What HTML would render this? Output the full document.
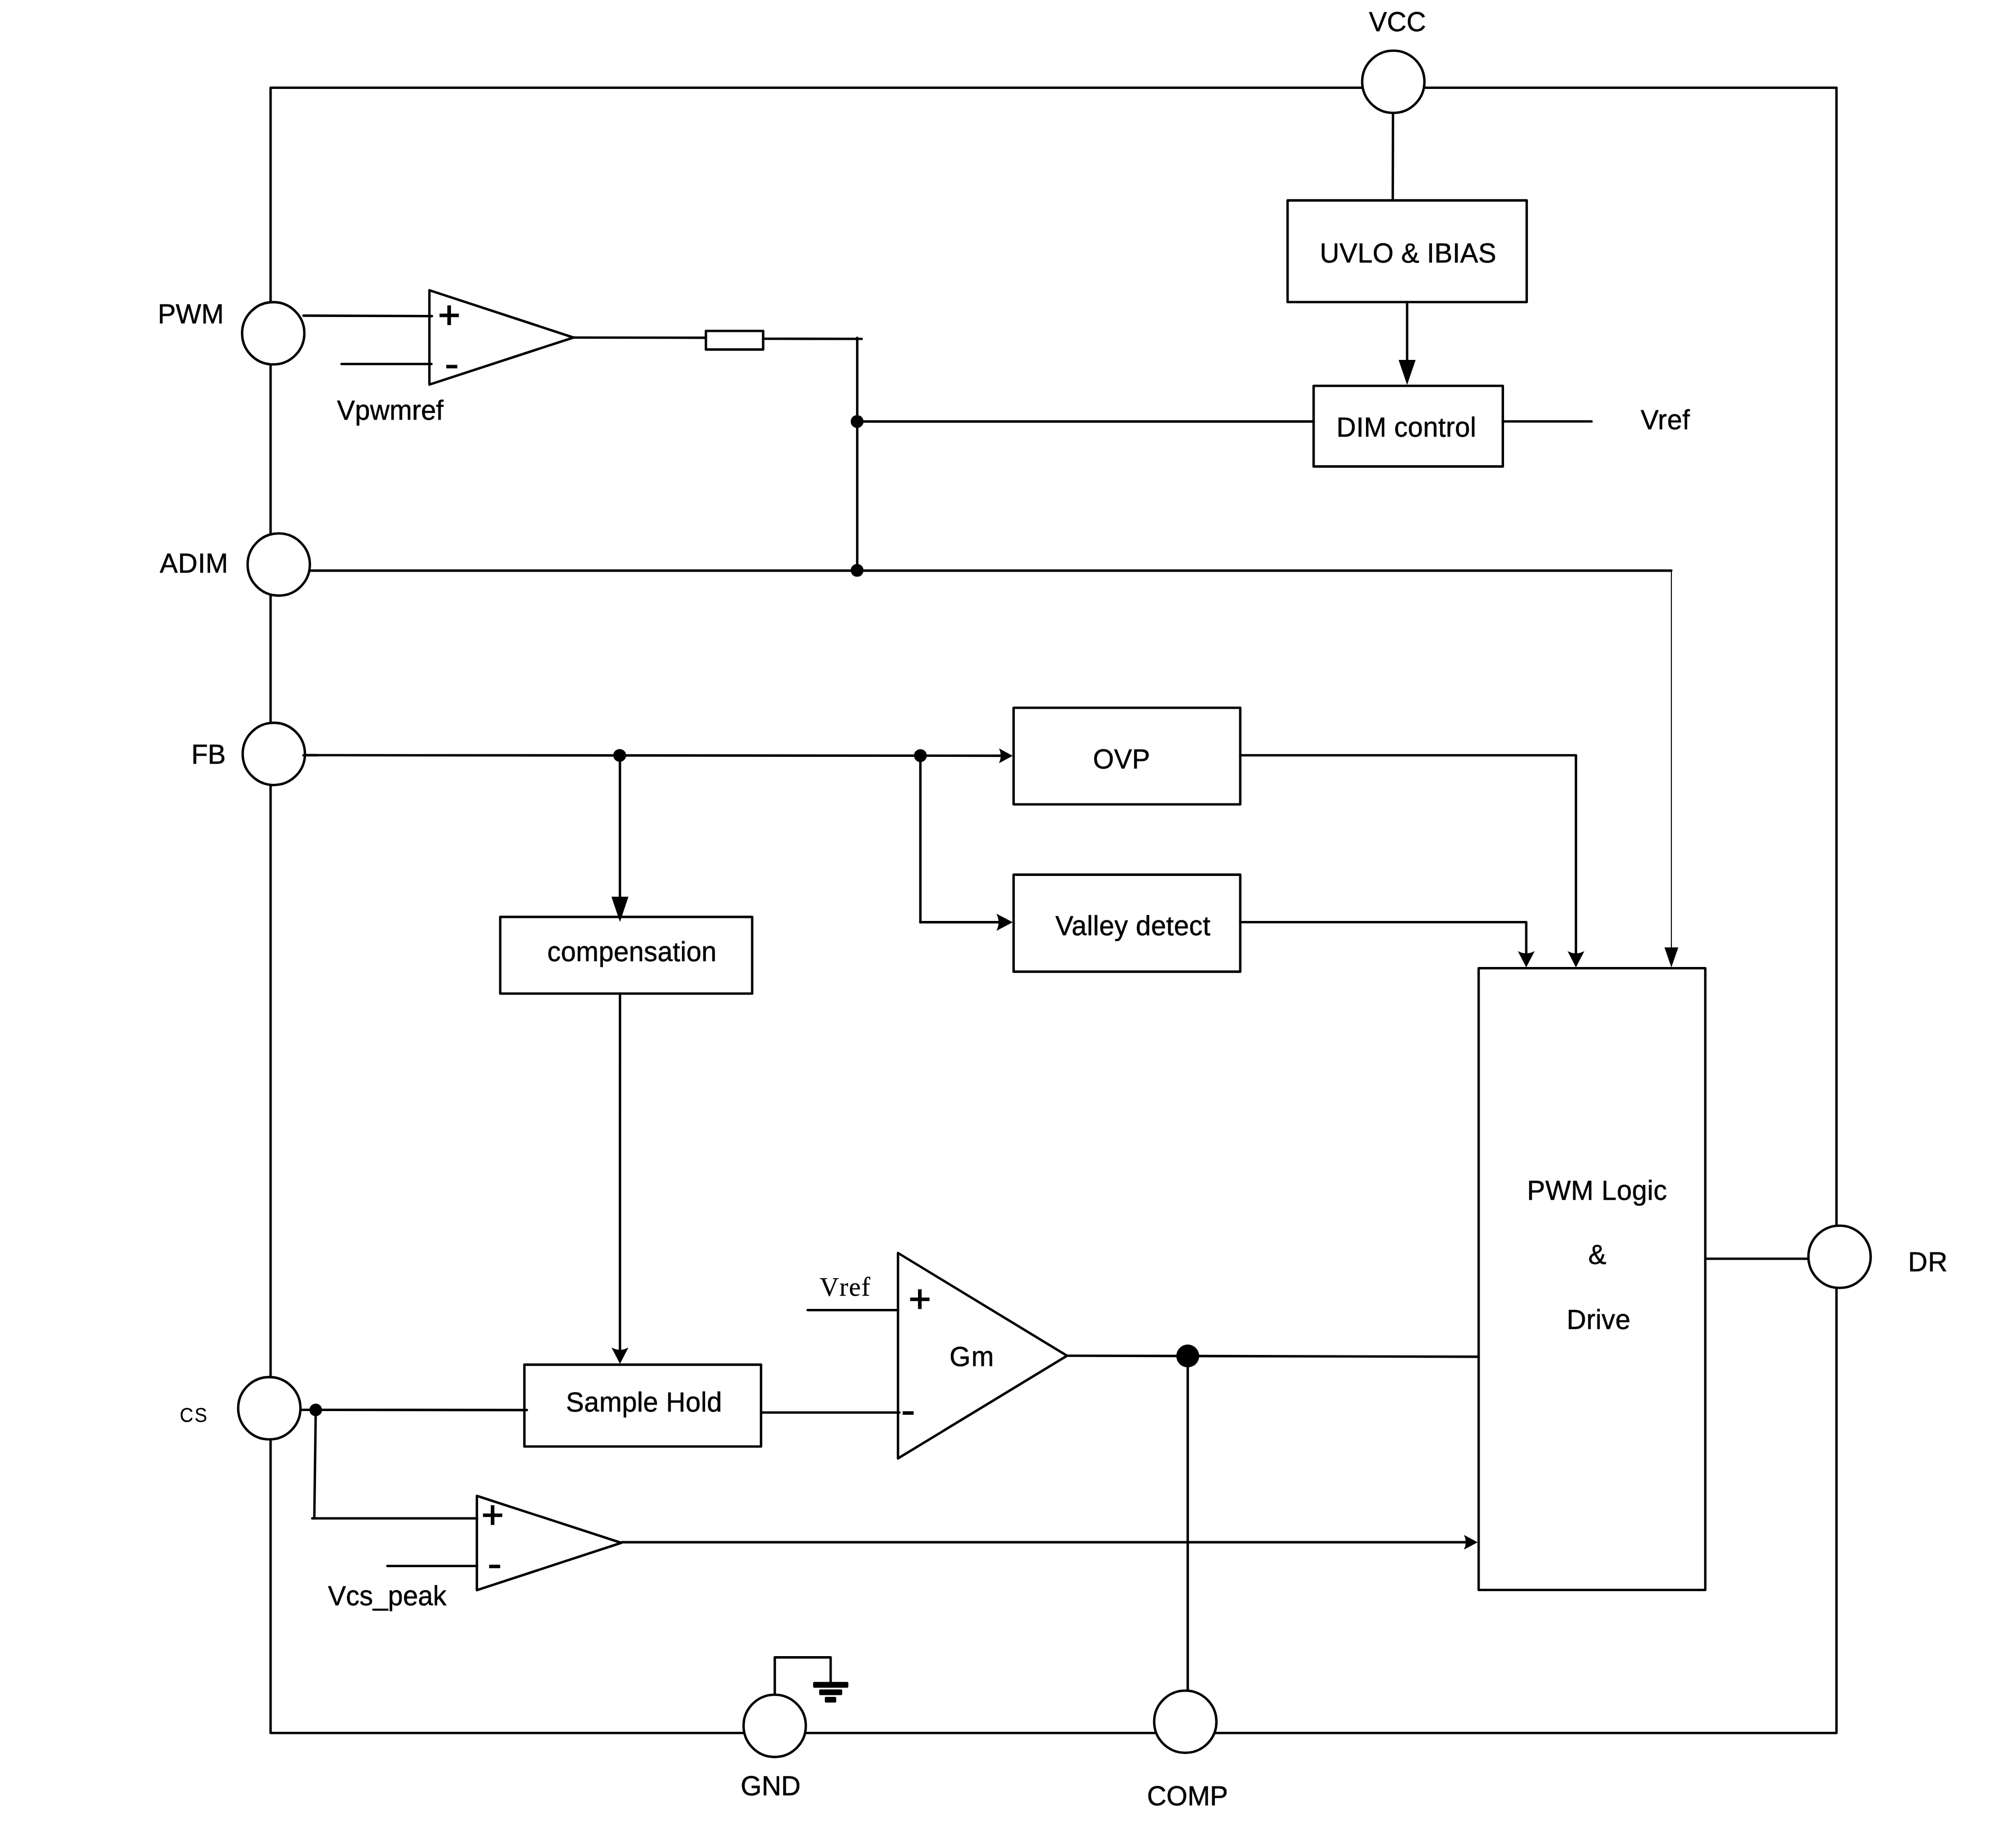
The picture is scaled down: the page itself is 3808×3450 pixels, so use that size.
<!DOCTYPE html>
<html><head><meta charset="utf-8"><title>Block diagram</title>
<style>
html,body{margin:0;padding:0;background:#fff;}
svg{display:block;will-change:transform;}
</style></head>
<body>
<svg width="3808" height="3450" viewBox="0 0 3808 3450" stroke="#000" fill="none">
<rect x="0" y="0" width="3808" height="3450" fill="#fff" stroke="none"/>
<rect x="511.1" y="165.8" width="2957.8" height="3108.5" stroke-width="4.6" fill="none" stroke-linejoin="round"/>
<line x1="2631.2" y1="212" x2="2630.8" y2="378" stroke-width="4.6" stroke-linecap="round"/>
<rect x="2432.1" y="378.6" width="451.7" height="192.2" stroke-width="4.6" fill="#fff" stroke-linejoin="round"/>
<line x1="2657.9" y1="570.8" x2="2657.9" y2="690" stroke-width="4.6" stroke-linecap="round"/>
<rect x="2481.3" y="729.0" width="357.4" height="152.4" stroke-width="4.6" fill="#fff" stroke-linejoin="round"/>
<polygon points="2641.8,680.0999999999999 2674.0,680.0999999999999 2657.9,727.3" fill="#000" stroke="none"/>
<line x1="2838.7" y1="796.3" x2="3006.3" y2="796.3" stroke-width="4.6" stroke-linecap="round"/>
<line x1="1619" y1="796.4" x2="2481.3" y2="796.4" stroke-width="4.6" stroke-linecap="round"/>
<line x1="573.2" y1="596.4" x2="815.9" y2="597.2" stroke-width="4.6" stroke-linecap="round"/>
<line x1="645.2" y1="687.7" x2="815" y2="687.7" stroke-width="4.6" stroke-linecap="round"/>
<polygon points="811.1,548.4 1083.3,637.7 811.1,726.6" stroke-width="4.6" fill="none" stroke-linejoin="round" stroke-linecap="round"/>
<line x1="1083.3" y1="637.8" x2="1333.3" y2="638.1" stroke-width="4.6" stroke-linecap="round"/>
<rect x="1333.4" y="625.2" width="108.1" height="35.2" stroke-width="4.6" fill="#fff" stroke-linejoin="round"/>
<line x1="1441.5" y1="640.0" x2="1627.6" y2="640.3" stroke-width="4.6" stroke-linecap="round"/>
<line x1="1619.2" y1="638.2" x2="1619.2" y2="1077" stroke-width="4.6" stroke-linecap="round"/>
<line x1="585" y1="1078.1" x2="3156.9" y2="1078.1" stroke-width="4.6" stroke-linecap="round"/>
<line x1="3157.1" y1="1078.2" x2="3157.1" y2="1795" stroke-width="1.9" stroke-linecap="butt"/>
<polygon points="3143.9500000000003,1790.1000000000001 3170.15,1790.1000000000001 3157.05,1827.7" fill="#000" stroke="none"/>
<circle cx="1619" cy="796.4" r="12.1" fill="#000" stroke="none"/>
<circle cx="1619" cy="1077.6" r="12.1" fill="#000" stroke="none"/>
<line x1="572" y1="1426.8" x2="1895" y2="1427.9" stroke-width="4.6" stroke-linecap="round"/>
<rect x="1914.6" y="1337.2" width="428.1" height="182.6" stroke-width="4.6" fill="#fff" stroke-linejoin="round"/>
<rect x="1914.6" y="1652.6" width="428.1" height="183.3" stroke-width="4.6" fill="#fff" stroke-linejoin="round"/>
<path d="M1913,1428 L1887,1414.1 Q1893.6,1428 1887,1441.9 Z" fill="#000" stroke="none"/>
<line x1="1171.0" y1="1427.5" x2="1171.0" y2="1700" stroke-width="4.6" stroke-linecap="round"/>
<line x1="1738.5" y1="1427.5" x2="1738.5" y2="1742.4" stroke-width="4.6" stroke-linecap="round"/>
<line x1="1738.5" y1="1742.4" x2="1895" y2="1742.4" stroke-width="4.6" stroke-linecap="round"/>
<path d="M1913,1742.5 L1882,1726.3 Q1890.4,1742.5 1882,1758.7 Z" fill="#000" stroke="none"/>
<circle cx="1170.5" cy="1427.3" r="12.1" fill="#000" stroke="none"/>
<circle cx="1738.5" cy="1427.6" r="12.1" fill="#000" stroke="none"/>
<polyline points="2342.7,1427 2976.8,1427 2976.8,1808" stroke-width="4.6" fill="none" stroke-linejoin="round" stroke-linecap="round"/>
<path d="M2976.8,1827.8 L2960.9,1797.1 Q2976.8,1805.5 2992.7000000000003,1797.1 Z" fill="#000" stroke="none"/>
<polyline points="2342.7,1742.3 2882.9,1742.3 2882.9,1808" stroke-width="4.6" fill="none" stroke-linejoin="round" stroke-linecap="round"/>
<path d="M2882.9,1827.8 L2867.0,1797.1 Q2882.9,1805.5 2898.8,1797.1 Z" fill="#000" stroke="none"/>
<rect x="944.9" y="1732.4" width="475.9" height="144.9" stroke-width="4.6" fill="#fff" stroke-linejoin="round"/>
<polygon points="1154.95,1694.3 1187.05,1694.3 1171.0,1742.1" fill="#000" stroke="none"/>
<line x1="1171.1" y1="1877.3" x2="1171.05" y2="2556" stroke-width="4.6" stroke-linecap="round"/>
<rect x="990.5" y="2578.4" width="447.0" height="154.6" stroke-width="4.6" fill="#fff" stroke-linejoin="round"/>
<path d="M1171.05,2576.8 L1155.05,2546.1000000000004 Q1171.05,2554.5000000000005 1187.05,2546.1000000000004 Z" fill="#000" stroke="none"/>
<rect x="2793" y="1829.3" width="428.1" height="1174.7" stroke-width="4.6" fill="#fff" stroke-linejoin="round"/>
<line x1="3221.2" y1="2378.2" x2="3416" y2="2378.2" stroke-width="4.6" stroke-linecap="round"/>
<line x1="566" y1="2663.7" x2="995.2" y2="2664.1" stroke-width="4.6" stroke-linecap="round"/>
<polyline points="596.4,2663.9 593.7,2868.7" stroke-width="4.6" fill="none" stroke-linejoin="round" stroke-linecap="round"/>
<line x1="589.7" y1="2868.7" x2="901.2" y2="2868.7" stroke-width="4.6" stroke-linecap="round"/>
<line x1="731.7" y1="2958.7" x2="901.2" y2="2958.7" stroke-width="4.6" stroke-linecap="round"/>
<polygon points="900.8,2826.2 1173.6,2915 900.8,3004.4" stroke-width="4.6" fill="none" stroke-linejoin="round" stroke-linecap="round"/>
<line x1="1174.6" y1="2913.9" x2="2775" y2="2913.9" stroke-width="4.6" stroke-linecap="round"/>
<path d="M2791.2,2913.9 L2765.2,2900.1 Q2772.2,2913.9 2765.2,2927.7000000000003 Z" fill="#000" stroke="none"/>
<circle cx="596.4" cy="2663.9" r="11.9" fill="#000" stroke="none"/>
<line x1="1525.6" y1="2475.2" x2="1696" y2="2475.2" stroke-width="4.6" stroke-linecap="round"/>
<line x1="1437.5" y1="2668.8" x2="1698.8" y2="2668.8" stroke-width="4.6" stroke-linecap="round"/>
<polygon points="1696.2,2367.4 2015.5,2561.5 1696.2,2755.5" stroke-width="4.6" fill="none" stroke-linejoin="round" stroke-linecap="round"/>
<line x1="2015.5" y1="2561.5" x2="2793" y2="2563.4" stroke-width="4.6" stroke-linecap="round"/>
<line x1="2243.5" y1="2561.9" x2="2243.5" y2="3195" stroke-width="4.6" stroke-linecap="round"/>
<circle cx="2243.5" cy="2561.9" r="21.6" fill="#000" stroke="none"/>
<polyline points="1463.5,3203 1463.5,3131.4 1569,3131.4 1569,3180" stroke-width="4.6" fill="none" stroke-linejoin="round" stroke-linecap="round"/>
<rect x="1535.9" y="3177.7" width="66.5" height="11.0" rx="2" fill="#000" stroke="none"/>
<rect x="1547.3" y="3192" width="43.6" height="10.7" rx="2" fill="#000" stroke="none"/>
<rect x="1558" y="3206" width="21.5" height="10.8" rx="2" fill="#000" stroke="none"/>
<circle cx="2631.8" cy="154.5" r="58.8" stroke-width="4.6" fill="#fff"/>
<circle cx="516.1" cy="629.7" r="58.8" stroke-width="4.6" fill="#fff"/>
<circle cx="526.5" cy="1066.6" r="58.8" stroke-width="4.6" fill="#fff"/>
<circle cx="517.2" cy="1424.4" r="58.8" stroke-width="4.6" fill="#fff"/>
<circle cx="508.7" cy="2660.7" r="58.8" stroke-width="4.6" fill="#fff"/>
<circle cx="1463.3" cy="3260.8" r="58.8" stroke-width="4.6" fill="#fff"/>
<circle cx="2238.9" cy="3253" r="58.8" stroke-width="4.6" fill="#fff"/>
<circle cx="3474.7" cy="2374.5" r="58.8" stroke-width="4.6" fill="#fff"/>
<line x1="573.2" y1="1427" x2="600" y2="1427" stroke-width="4.6" stroke-linecap="round"/>
<text x="2585.8" y="59.1" font-size="51" font-family='"Liberation Sans", Arial, sans-serif' font-weight="normal" text-anchor="start" fill="#000" stroke="#000" stroke-width="0.6" stroke-linejoin="round">VCC</text>
<text x="298.1" y="611.1" font-size="51" font-family='"Liberation Sans", Arial, sans-serif' font-weight="normal" text-anchor="start" fill="#000" stroke="#000" stroke-width="0.6" stroke-linejoin="round">PWM</text>
<text x="301.8" y="1081.9" font-size="51" font-family='"Liberation Sans", Arial, sans-serif' font-weight="normal" text-anchor="start" fill="#000" stroke="#000" stroke-width="0.6" stroke-linejoin="round" letter-spacing="0.5">ADIM</text>
<text x="361.4" y="1443.1" font-size="51" font-family='"Liberation Sans", Arial, sans-serif' font-weight="normal" text-anchor="start" fill="#000" stroke="#000" stroke-width="0.6" stroke-linejoin="round">FB</text>
<text transform="translate(339.4,2686.5) scale(1,1.09)" x="0" y="0" font-size="35.6" font-family='"Liberation Sans", Arial, sans-serif' letter-spacing="2.3" fill="#000" stroke="#000" stroke-width="0.15">CS</text>
<text x="636.5" y="792.9" font-size="51" font-family='"Liberation Sans", Arial, sans-serif' font-weight="normal" text-anchor="start" fill="#000" stroke="#000" stroke-width="0.6" stroke-linejoin="round">Vpwmref</text>
<text x="2493" y="496" font-size="51" font-family='"Liberation Sans", Arial, sans-serif' font-weight="normal" text-anchor="start" fill="#000" stroke="#000" stroke-width="0.6" stroke-linejoin="round" letter-spacing="0.15">UVLO &amp; IBIAS</text>
<text x="2524.6" y="824.8" font-size="51" font-family='"Liberation Sans", Arial, sans-serif' font-weight="normal" text-anchor="start" fill="#000" stroke="#000" stroke-width="0.6" stroke-linejoin="round" letter-spacing="0.3">DIM control</text>
<text x="3099.1" y="811.4" font-size="51" font-family='"Liberation Sans", Arial, sans-serif' font-weight="normal" text-anchor="start" fill="#000" stroke="#000" stroke-width="0.6" stroke-linejoin="round" letter-spacing="0.4">Vref</text>
<text x="2064.5" y="1451.8" font-size="51" font-family='"Liberation Sans", Arial, sans-serif' font-weight="normal" text-anchor="start" fill="#000" stroke="#000" stroke-width="0.6" stroke-linejoin="round">OVP</text>
<text x="1993.6" y="1767" font-size="51" font-family='"Liberation Sans", Arial, sans-serif' font-weight="normal" text-anchor="start" fill="#000" stroke="#000" stroke-width="0.6" stroke-linejoin="round" letter-spacing="0.36">Valley detect</text>
<text x="1033.7" y="1815.7" font-size="51" font-family='"Liberation Sans", Arial, sans-serif' font-weight="normal" text-anchor="start" fill="#000" stroke="#000" stroke-width="0.6" stroke-linejoin="round" letter-spacing="0.2">compensation</text>
<text x="1069" y="2667" font-size="51" font-family='"Liberation Sans", Arial, sans-serif' font-weight="normal" text-anchor="start" fill="#000" stroke="#000" stroke-width="0.6" stroke-linejoin="round" letter-spacing="0.26">Sample Hold</text>
<text x="1548.2" y="2448.1" font-size="50.3" font-family='"Liberation Serif", "Times New Roman", serif' letter-spacing="1.1" style="font-kerning:none" fill="#000" stroke="#000" stroke-width="0.25">Vref</text>
<text x="1793.6" y="2581" font-size="51" font-family='"Liberation Sans", Arial, sans-serif' font-weight="normal" text-anchor="start" fill="#000" stroke="#000" stroke-width="0.6" stroke-linejoin="round" letter-spacing="1.5">Gm</text>
<text x="619.4" y="3032.5" font-size="51" font-family='"Liberation Sans", Arial, sans-serif' font-weight="normal" text-anchor="start" fill="#000" stroke="#000" stroke-width="0.6" stroke-linejoin="round">Vcs_peak</text>
<text x="1399" y="3392.1" font-size="51" font-family='"Liberation Sans", Arial, sans-serif' font-weight="normal" text-anchor="start" fill="#000" stroke="#000" stroke-width="0.6" stroke-linejoin="round">GND</text>
<text x="2166.5" y="3411.2" font-size="51" font-family='"Liberation Sans", Arial, sans-serif' font-weight="normal" text-anchor="start" fill="#000" stroke="#000" stroke-width="0.6" stroke-linejoin="round">COMP</text>
<text x="2884.5" y="2266.6" font-size="51" font-family='"Liberation Sans", Arial, sans-serif' font-weight="normal" text-anchor="start" fill="#000" stroke="#000" stroke-width="0.6" stroke-linejoin="round" letter-spacing="0.45">PWM Logic</text>
<text x="3016.9" y="2388.1" font-size="51" font-family='"Liberation Sans", Arial, sans-serif' font-weight="normal" text-anchor="middle" fill="#000" stroke="#000" stroke-width="0.6" stroke-linejoin="round">&amp;</text>
<text x="2959.3" y="2510.6" font-size="51" font-family='"Liberation Sans", Arial, sans-serif' font-weight="normal" text-anchor="start" fill="#000" stroke="#000" stroke-width="0.6" stroke-linejoin="round" letter-spacing="0.3">Drive</text>
<text x="3604.1" y="2401.5" font-size="51" font-family='"Liberation Sans", Arial, sans-serif' font-weight="normal" text-anchor="start" fill="#000" stroke="#000" stroke-width="0.6" stroke-linejoin="round" letter-spacing="0.8">DR</text>
<text x="848.55" y="621.05" font-size="76" font-family='"Liberation Sans", Arial, sans-serif' font-weight="bold" text-anchor="middle" fill="#000" stroke="#fff" stroke-width="1.5">+</text>
<text transform="translate(853.45,692.4) scale(1.14,0.77)" x="0" y="18.86" font-size="72" font-family='"Liberation Sans", Arial, sans-serif' font-weight="bold" text-anchor="middle" fill="#000" stroke="none">-</text>
<text x="930.45" y="2888.05" font-size="76" font-family='"Liberation Sans", Arial, sans-serif' font-weight="bold" text-anchor="middle" fill="#000" stroke="#fff" stroke-width="1.5">+</text>
<text transform="translate(934.4,2959.4) scale(1.14,0.77)" x="0" y="18.86" font-size="72" font-family='"Liberation Sans", Arial, sans-serif' font-weight="bold" text-anchor="middle" fill="#000" stroke="none">-</text>
<text x="1737.5" y="2479.85" font-size="76" font-family='"Liberation Sans", Arial, sans-serif' font-weight="bold" text-anchor="middle" fill="#000" stroke="#fff" stroke-width="1.5">+</text>
<text transform="translate(1715.5,2669.4) scale(1.14,0.77)" x="0" y="18.86" font-size="72" font-family='"Liberation Sans", Arial, sans-serif' font-weight="bold" text-anchor="middle" fill="#000" stroke="none">-</text>
</svg>
</body></html>
